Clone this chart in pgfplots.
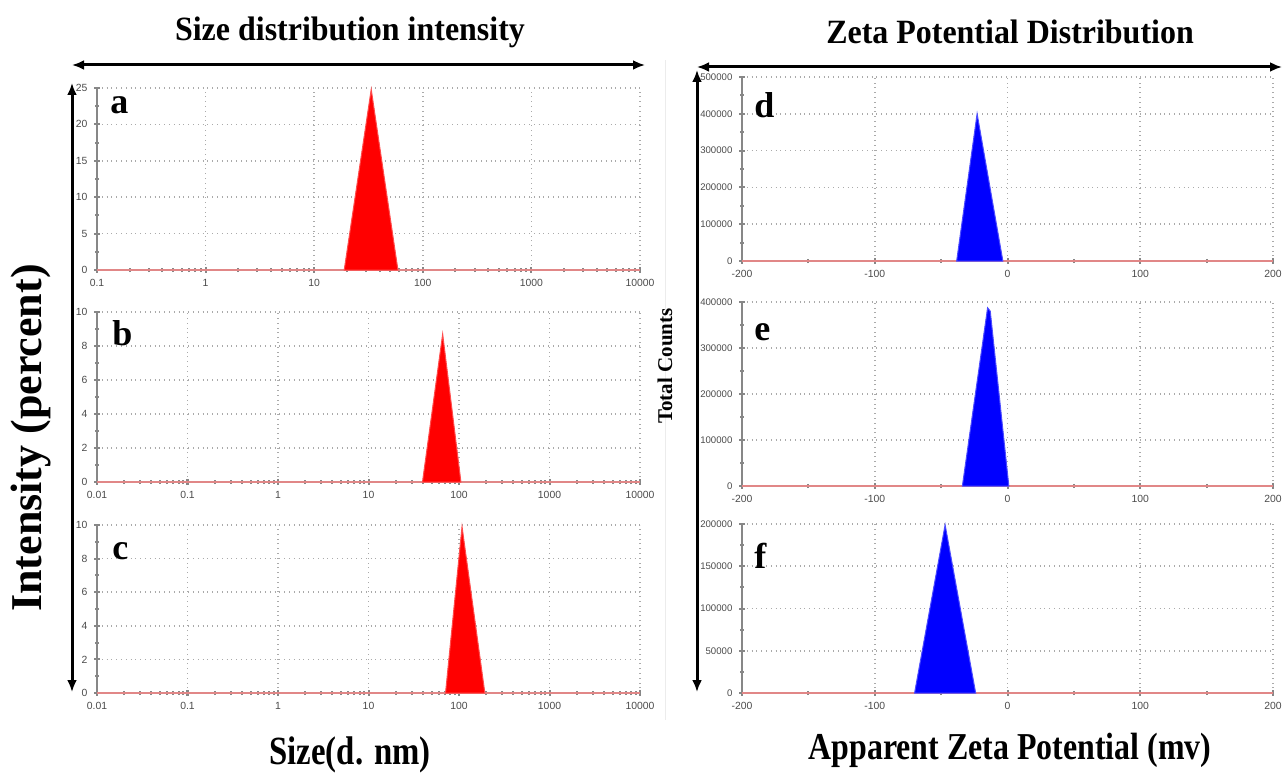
\documentclass[border=0pt]{standalone}
\usepackage{fontspec}
\setmainfont{Liberation Serif}
\setsansfont{Liberation Sans}
\usepackage{pgfplots}
\pgfplotsset{compat=1.18}
\usetikzlibrary{arrows.meta}

\definecolor{axgray}{RGB}{135,135,135}
\definecolor{gridgray}{RGB}{170,170,170}
\definecolor{ticktext}{RGB}{75,75,75}
\definecolor{basecol}{RGB}{225,135,135}

\pgfplotsset{
  dlspanel/.style={
    scale only axis, anchor=south west, clip=false,
    axis x line*=bottom, axis y line*=left,
    axis line style={draw=axgray, line width=1.4pt},
    grid=major,
    major grid style={gridgray, dotted, line width=0.8pt},
    tick style={axgray, line width=1pt},
    major tick length=2.6pt, minor tick length=2pt,
    tick align=center,
    minor y tick num=1,
    tick label style={font=\sffamily\fontsize{5.2}{6}\selectfont, text=ticktext},
    /pgf/number format/assume math mode=true,
    ymin=0,
  },
  zetapanel/.style={dlspanel, xmin=-200, xmax=200,
    xtick={-200,-100,0,100,200}, minor x tick num=1,
    scaled y ticks=false,
    yticklabel style={/pgf/number format/fixed, /pgf/number format/1000 sep={},
      font=\sffamily\fontsize{4.8}{6}\selectfont},
    width=265.5pt},
  peakred/.style={fill=red, draw=red!70!white, line width=0.5pt},
  peakblue/.style={fill=blue, draw=blue!70!white, line width=0.5pt},
  zeroline/.style={draw=basecol, line width=0.6pt},
}

\newcommand{\ttl}{\fontsize{17}{19}\selectfont\bfseries}

\begin{document}
\begin{tikzpicture}[x=0.5pt, y=0.5pt]
\path[use as bounding box] (0,0) rectangle (1288,778);

% ---- size distribution (left) ----
\begin{axis}[dlspanel, xmode=log, width=271.5pt, at={(48.5pt,254pt)}, height=91pt,
  xmin=0.1, xmax=10000, xtick={0.1,1,10,100,1000,10000},
  xticklabels={0.1,1,10,100,1000,10000},
  ymax=25, ytick={0,5,10,15,20,25}]
  \addplot[zeroline] coordinates {(0.1,0) (10000,0)};
  \addplot[peakred] coordinates {(18.9,0) (33.5,24.8) (59,0)} \closedcycle;
\end{axis}

\begin{axis}[dlspanel, xmode=log, width=271.5pt, at={(48.5pt,148pt)}, height=85pt,
  xmin=0.01, xmax=10000, xtick={0.01,0.1,1,10,100,1000,10000},
  xticklabels={0.01,0.1,1,10,100,1000,10000},
  ymax=10, ytick={0,2,4,6,8,10}]
  \addplot[zeroline] coordinates {(0.01,0) (10000,0)};
  \addplot[peakred] coordinates {(39.5,0) (66,8.7) (105,0)} \closedcycle;
\end{axis}

\begin{axis}[dlspanel, xmode=log, width=271.5pt, at={(48.5pt,42.5pt)}, height=84pt,
  xmin=0.01, xmax=10000, xtick={0.01,0.1,1,10,100,1000,10000},
  xticklabels={0.01,0.1,1,10,100,1000,10000},
  ymax=10, ytick={0,2,4,6,8,10}]
  \addplot[zeroline] coordinates {(0.01,0) (10000,0)};
  \addplot[peakred] coordinates {(71,0) (108,9.9) (193,0)} \closedcycle;
\end{axis}

% ---- zeta potential (right) ----
\begin{axis}[zetapanel, at={(371pt,258.5pt)}, height=92pt,
  ymax=500000, ytick={0,100000,200000,300000,400000,500000}]
  \addplot[zeroline] coordinates {(-200,0) (200,0)};
  \addplot[peakblue] coordinates {(-38.3,0) (-22.9,400000) (-3.5,0)} \closedcycle;
\end{axis}

\begin{axis}[zetapanel, at={(371pt,146pt)}, height=92pt,
  ymax=400000, ytick={0,100000,200000,300000,400000}]
  \addplot[zeroline] coordinates {(-200,0) (200,0)};
  \addplot[peakblue] coordinates {(-34,0) (-15,387500) (-13,380000) (1,0)} \closedcycle;
\end{axis}

\begin{axis}[zetapanel, at={(371pt,42.5pt)}, height=84.5pt,
  ymax=200000, ytick={0,50000,100000,150000,200000}]
  \addplot[zeroline] coordinates {(-200,0) (200,0)};
  \addplot[peakblue] coordinates {(-70,0) (-47,199000) (-24,0)} \closedcycle;
\end{axis}

% ---- everything else, in image pixels from the top ----
\begin{scope}[shift={(0,778)}, yscale=-1]
\foreach \l/\px/\py in {a/110/114, b/112/345, c/112/559, d/754/118, e/754/340, f/754/568}
  \node[anchor=base west, inner sep=0pt, font=\fontsize{18}{20}\selectfont\bfseries] at (\px,\py) {\l};

\draw[line width=1.5pt, {Latex[length=6pt,width=5pt]}-{Latex[length=6pt,width=5pt]}] (72,65) -- (645,65);
\draw[line width=1.5pt, {Latex[length=6pt,width=5pt]}-{Latex[length=6pt,width=5pt]}] (697,67) -- (1282,67);
\draw[line width=1.5pt, {Latex[length=6pt,width=5pt]}-{Latex[length=6pt,width=5pt]}] (72,83) -- (72,692);
\draw[line width=1.5pt, {Latex[length=6pt,width=5pt]}-{Latex[length=6pt,width=5pt]}] (697,70) -- (697,692);
\draw[gray!15, line width=0.5pt] (665,60) -- (665,720);

\node[font=\ttl, xscale=0.94] at (350,32) {Size distribution intensity};
\node[font=\ttl, xscale=0.94] at (1010,32) {Zeta Potential Distribution};
\node[font=\fontsize{20}{22}\selectfont\bfseries, xscale=0.82] at (350,755) {Size(d. nm)};
\node[font=\fontsize{19}{21}\selectfont\bfseries, xscale=0.84] at (1010,750) {Apparent Zeta Potential (mv)};
\node[font=\fontsize{22}{24}\selectfont\bfseries, rotate=90] at (31,438) {Intensity (percent)};
\node[font=\fontsize{10.5}{12}\selectfont\bfseries, rotate=90] at (665,366) {Total Counts};
\end{scope}
\end{tikzpicture}
\end{document}
